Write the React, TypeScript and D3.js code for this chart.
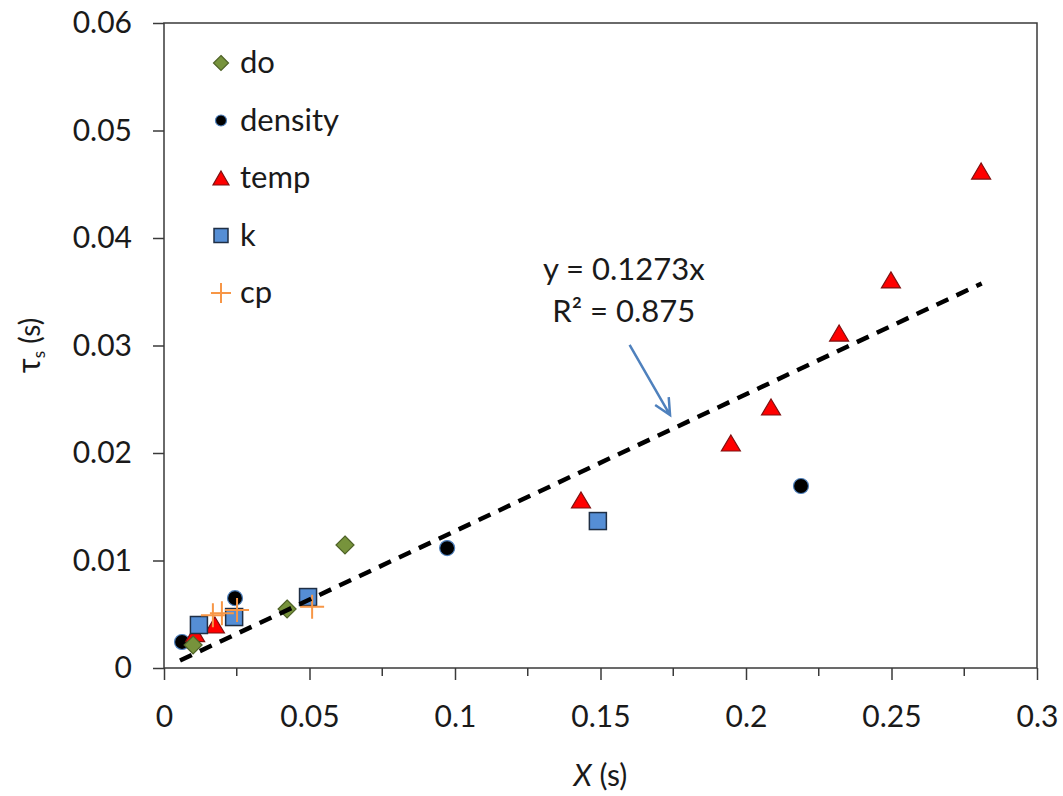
import React, { useEffect, useRef } from 'react';
import * as d3 from 'd3';

// values
const doX = [0.01, 0.0423, 0.0622];
const doY = [0.00214, 0.00549, 0.01144];
const densityX = [0.0062, 0.0244, 0.0973, 0.2189];
const densityY = [0.00242, 0.0065, 0.01116, 0.01693];
const tempX = [0.0107, 0.0175, 0.1433, 0.1948, 0.2086, 0.232, 0.2498, 0.2808];
const tempY = [0.0032, 0.004, 0.01563, 0.02093, 0.02428, 0.03116, 0.0361, 0.04623];
const kX = [0.012, 0.0241, 0.0495, 0.1491];
const kY = [0.004, 0.00474, 0.0066, 0.01367];
const cpX = [0.0168, 0.0199, 0.0251, 0.0509];
const cpY = [0.0049, 0.0051, 0.0054, 0.0057];

const trendSlope = 0.1273;
const trendRange = [0.0055, 0.281];

const xTicks = [0, 0.05, 0.1, 0.15, 0.2, 0.25, 0.3];
const xMinorTicks = [0.025, 0.075, 0.125, 0.175, 0.225, 0.275];
const yTicks = [0, 0.01, 0.02, 0.03, 0.04, 0.05, 0.06];

const legendNames = ['do', 'density', 'temp', 'k', 'cp'];

const FONT = "Lato, 'DejaVu Sans', sans-serif";

export default function App() {
  const svgRef = useRef<SVGSVGElement>(null);

  useEffect(() => {
    document.body.style.margin = '0';
    if (!svgRef.current) return;
    const svg = d3.select(svgRef.current);
    svg.selectAll('*').remove();

    const left = 164, right = 1037, top = 23, bottom = 668;
    const x = d3.scaleLinear().domain([0, 0.3]).range([left, right]);
    const y = d3.scaleLinear().domain([0, 0.06]).range([bottom, top]);

    svg.append('rect').attr('width', 1063).attr('height', 796).attr('fill', '#fff');

    // plot border
    svg.append('rect')
      .attr('x', left).attr('y', top)
      .attr('width', right - left).attr('height', bottom - top)
      .attr('fill', 'none').attr('stroke', '#3a3a3a').attr('stroke-width', 1.5);

    // y axis ticks + labels
    const yAxis = svg.append('g')
      .attr('transform', `translate(${left},0)`)
      .call(d3.axisLeft(y).tickValues(yTicks).tickSize(11).tickPadding(21)
        .tickFormat((d: any) => (d === 0 ? '0' : d3.format('.2f')(d))));
    yAxis.select('.domain').remove();
    yAxis.selectAll('line').attr('stroke', '#3a3a3a').attr('stroke-width', 1.5);
    yAxis.selectAll('text')
      .style('font-family', FONT).style('font-size', '30px').attr('fill', '#1a1a1a');

    // x axis ticks + labels
    const xAxis = svg.append('g')
      .attr('transform', `translate(0,${bottom})`)
      .call(d3.axisBottom(x).tickValues(xTicks).tickSize(12).tickPadding(26)
        .tickFormat((d: any) => (d === 0 ? '0' : String(+d.toFixed(2)))));
    xAxis.select('.domain').remove();
    xAxis.selectAll('line').attr('stroke', '#3a3a3a').attr('stroke-width', 1.5);
    xAxis.selectAll('text')
      .style('font-family', FONT).style('font-size', '30px').attr('fill', '#1a1a1a');

    svg.append('g').selectAll('line').data(xMinorTicks).enter().append('line')
      .attr('x1', (d) => x(d)).attr('x2', (d) => x(d))
      .attr('y1', bottom).attr('y2', bottom + 8)
      .attr('stroke', '#3a3a3a').attr('stroke-width', 1.5);

    // markers
    const diamond = (g: any, cx: number, cy: number, s: number) =>
      g.append('path')
        .attr('d', `M${cx},${cy - s}L${cx + s},${cy}L${cx},${cy + s}L${cx - s},${cy}Z`)
        .attr('fill', '#77933C').attr('stroke', '#4F6228').attr('stroke-width', 1.2);
    const circle = (g: any, cx: number, cy: number, r: number) =>
      g.append('circle').attr('cx', cx).attr('cy', cy).attr('r', r)
        .attr('fill', '#000').attr('stroke', '#4F81BD').attr('stroke-width', 1.2);
    const triangle = (g: any, cx: number, cy: number, w: number, h: number) =>
      g.append('path')
        .attr('d', `M${cx},${cy - h / 2}L${cx + w / 2},${cy + h / 2}L${cx - w / 2},${cy + h / 2}Z`)
        .attr('fill', '#FF0000').attr('stroke', '#7F1010').attr('stroke-width', 1.2);
    const square = (g: any, cx: number, cy: number, s: number) =>
      g.append('rect').attr('x', cx - s / 2).attr('y', cy - s / 2).attr('width', s).attr('height', s)
        .attr('fill', '#558ED5').attr('stroke', '#1F2F45').attr('stroke-width', 1.5);
    const plus = (g: any, cx: number, cy: number, s: number) => {
      g.append('path')
        .attr('d', `M${cx - s},${cy}H${cx + s}M${cx},${cy - s}V${cy + s}`)
        .attr('stroke', '#F79646').attr('stroke-width', 2).attr('fill', 'none');
    };

    const pts = svg.append('g');
    densityX.forEach((v, i) => circle(pts, x(v), y(densityY[i]), 7.5));
    tempX.forEach((v, i) => triangle(pts, x(v), y(tempY[i]), 19, 16));
    doX.forEach((v, i) => diamond(pts, x(v), y(doY[i]), 9));
    kX.forEach((v, i) => square(pts, x(v), y(kY[i]), 17));
    cpX.forEach((v, i) => plus(pts, x(v), y(cpY[i]), 12));

    // trendline
    const line = d3.line<number>().x((d) => x(d)).y((d) => y(d * trendSlope));
    svg.append('path')
      .datum(trendRange)
      .attr('d', line)
      .attr('fill', 'none').attr('stroke', '#000').attr('stroke-width', 4.5)
      .attr('stroke-dasharray', '13,9');

    // equation annotation
    svg.append('text')
      .attr('x', x(0.158)).attr('y', y(0.0361))
      .attr('text-anchor', 'middle')
      .style('font-family', FONT).style('font-size', '31px').attr('fill', '#1a1a1a')
      .text('y = 0.1273x');
    svg.append('text')
      .attr('x', x(0.158)).attr('y', y(0.0322))
      .attr('text-anchor', 'middle')
      .style('font-family', FONT).style('font-size', '31px').attr('fill', '#1a1a1a')
      .text('R² = 0.875');

    // arrow
    const ax1 = x(0.16), ay1 = y(0.03005), ax2 = x(0.1739), ay2 = y(0.02353);
    const ang = Math.atan2(ay2 - ay1, ax2 - ax1);
    const hl = 18, ha = 0.45;
    svg.append('path')
      .attr('d', `M${ax1},${ay1}L${ax2},${ay2}` +
        `M${ax2 - hl * Math.cos(ang - ha)},${ay2 - hl * Math.sin(ang - ha)}L${ax2},${ay2}` +
        `L${ax2 - hl * Math.cos(ang + ha)},${ay2 - hl * Math.sin(ang + ha)}`)
      .attr('fill', 'none').attr('stroke', '#4F81BD').attr('stroke-width', 2.5);

    // legend
    const lg = svg.append('g');
    legendNames.forEach((name, i) => {
      const cy = 63 + i * 57.5;
      const cx = 221;
      if (name === 'do') diamond(lg, cx, cy, 7.5);
      if (name === 'density') circle(lg, cx, cy, 5.5);
      if (name === 'temp') triangle(lg, cx, cy, 16, 14);
      if (name === 'k') square(lg, cx, cy, 14);
      if (name === 'cp') plus(lg, cx, cy, 10);
      lg.append('text')
        .attr('x', 240).attr('y', cy + 10)
        .style('font-family', FONT).style('font-size', '31px').attr('fill', '#1a1a1a')
        .text(name);
    });

    // axis titles
    const xt = svg.append('text')
      .attr('x', (left + right) / 2).attr('y', 786)
      .attr('text-anchor', 'middle')
      .style('font-family', FONT).style('font-size', '30px').attr('fill', '#1a1a1a');
    xt.append('tspan').style('font-style', 'italic').text('X');
    xt.append('tspan').text(' (s)');

    const yt = svg.append('text')
      .attr('transform', `translate(40,${(top + bottom) / 2}) rotate(-90)`)
      .attr('text-anchor', 'middle')
      .style('font-family', FONT).style('font-size', '28px').attr('fill', '#1a1a1a');
    yt.append('tspan').style('font-size', '32px').text('τ');
    yt.append('tspan').attr('dy', 5).style('font-size', '17px').text('s');
    yt.append('tspan').attr('dy', -5).text(' (s)');
  }, []);

  return <svg ref={svgRef} width={1063} height={796} style={{ display: 'block' }} />;
}
